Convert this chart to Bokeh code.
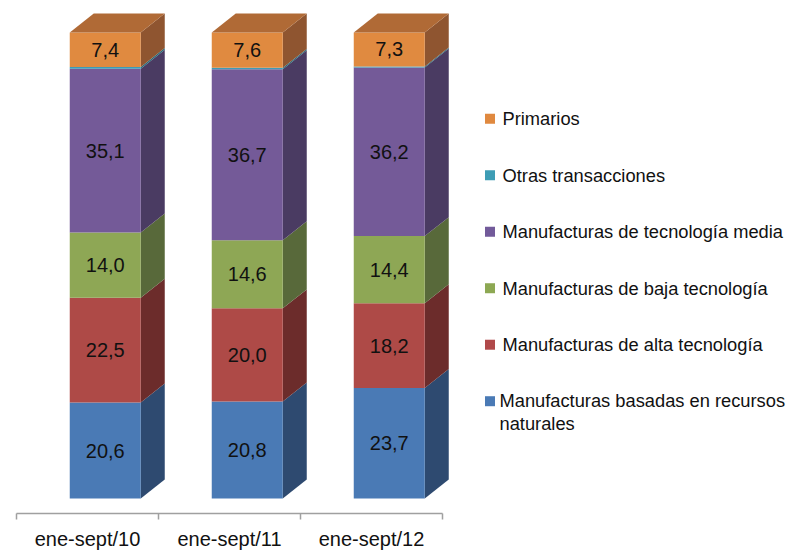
from bokeh.plotting import figure
from bokeh.models import Range1d, LinearAxis, FixedTicker
from bokeh.core.properties import value
from bokeh.embed import file_html
from bokeh.resources import INLINE

# ---------------- data ----------------
categories = ["ene-sept/10", "ene-sept/11", "ene-sept/12"]
series_names = [
    "Manufacturas basadas en recursos naturales",
    "Manufacturas de alta tecnología",
    "Manufacturas de baja tecnología",
    "Manufacturas de tecnología media",
    "Otras transacciones",
    "Primarios",
]
naturales = [20.6, 20.8, 23.7]
alta = [22.5, 20.0, 18.2]
baja = [14.0, 14.6, 14.4]
media = [35.1, 36.7, 36.2]
otras = [0.4, 0.3, 0.2]
primarios = [7.4, 7.6, 7.3]
series_values = [naturales, alta, baja, media, otras, primarios]
show_label = [True, True, True, True, False, True]

# ---------------- styles ----------------
front_colors = ["#4A7AB5", "#AE4A47", "#8EA755", "#745A98", "#3F9CB5", "#E08A40"]
side_colors = ["#2E4A70", "#6C2C2B", "#58693A", "#4A3B62", "#296878", "#8F5530"]
top_color = "#B06A36"
legend_colors = ["#E0893F", "#3E9DB5", "#725A9A", "#8DA853", "#B0494A", "#4A7AB5"]
FONT = "Liberation Sans"

# layout helpers (page pixels -> data coordinates)
PX_PER_CAT = 142.0
PX_PER_UNIT = 4.67
X0_PX = 16.0
Y0_PX = 499.0


def px_x(px):
    return (px - X0_PX) / PX_PER_CAT


def px_y(py):
    return (Y0_PX - py) / PX_PER_UNIT


BAR_OFF = 0.375
BAR_W = 0.5
DX = 24 / PX_PER_CAT
DY = 19 / PX_PER_UNIT

p = figure(
    width=790, height=552,
    output_backend="svg", toolbar_location=None,
    x_range=Range1d(px_x(0), px_x(790)),
    y_range=Range1d(px_y(514), px_y(0)),
    x_axis_location=None, y_axis_location=None,
    min_border_left=0, min_border_right=0, min_border_top=0, min_border_bottom=38,
)
p.outline_line_color = None
p.background_fill_color = "white"
p.border_fill_color = "white"
p.xgrid.visible = False
p.ygrid.visible = False

n = len(categories)
lefts = [i + BAR_OFF for i in range(n)]
rights = [l + BAR_W for l in lefts]
centers = [l + BAR_W / 2 for l in lefts]

bottoms = [0.0] * n
for k, vals in enumerate(series_values):
    tops = [b + v for b, v in zip(bottoms, vals)]
    # side faces
    xs = [[r, r + DX, r + DX, r] for r in rights]
    ys = [[b, b + DY, t + DY, t] for b, t in zip(bottoms, tops)]
    p.patches(xs, ys, fill_color=side_colors[k], line_color=None)
    # front faces
    p.quad(left=lefts, right=rights, bottom=bottoms, top=tops,
           fill_color=front_colors[k], line_color=None)
    if show_label[k]:
        mids = [(b + t) / 2 for b, t in zip(bottoms, tops)]
        labels = [f"{v:.1f}".replace(".", ",") for v in vals]
        p.text(x=centers, y=mids, text=labels, text_align="center",
               text_baseline="middle", text_font=value(FONT),
               text_font_size="20px", text_color="#111111")
    bottoms = tops

# top faces
xs = [[l, l + DX, r + DX, r] for l, r in zip(lefts, rights)]
ys = [[t, t + DY, t + DY, t] for t in bottoms]
p.patches(xs, ys, fill_color=top_color, line_color=None)

# ---------------- legend ----------------
legend_names = list(reversed(series_names))
legend_names[-1] = "Manufacturas basadas en recursos\nnaturales"
leg_y_px = [118.5 + 56.6 * j for j in range(len(legend_names))]
p.scatter(x=[px_x(489.5)] * len(legend_names), y=[px_y(v) for v in leg_y_px],
          marker="square", size=10, fill_color=legend_colors, line_color=None)
p.text(x=[px_x(502)] * (len(legend_names) - 1),
       y=[px_y(v) for v in leg_y_px[:-1]],
       text=legend_names[:-1], text_align="left", text_baseline="middle",
       text_font=value(FONT), text_font_size="18.3px", text_color="#111111")
p.text(x=[px_x(499)], y=[px_y(leg_y_px[-1] - 11)],
       text=[legend_names[-1]], text_align="left", text_baseline="top",
       text_line_height=1.1,
       text_font=value(FONT), text_font_size="18.3px", text_color="#111111")

# ---------------- x axis ----------------
xaxis = LinearAxis(
    ticker=FixedTicker(ticks=[i + 0.5 for i in range(n)],
                       minor_ticks=[float(i) for i in range(n + 1)]),
    bounds=(0, n),
    major_label_overrides={i + 0.5: c for i, c in enumerate(categories)},
    axis_line_color="#A0A0A0", axis_line_width=1.5,
    major_tick_out=0, major_tick_in=0,
    minor_tick_out=6, minor_tick_in=0,
    minor_tick_line_color="#A0A0A0", minor_tick_line_width=1.5,
    major_label_standoff=8,
    major_label_text_font=FONT, major_label_text_font_size="20px",
    major_label_text_color="#111111",
)
p.add_layout(xaxis, "below")

open("out.html", "w").write(file_html(p, INLINE))
